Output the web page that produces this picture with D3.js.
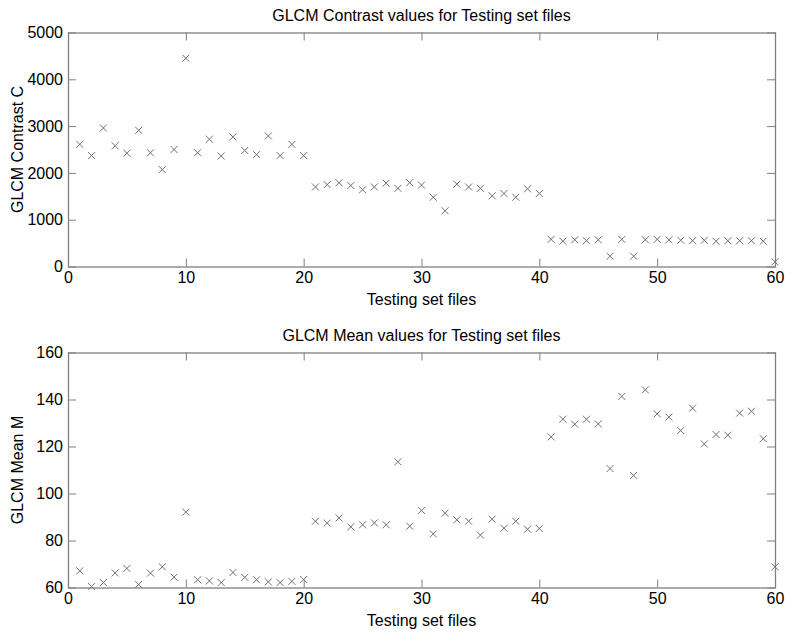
<!DOCTYPE html>
<html>
<head>
<meta charset="utf-8">
<script src="https://cdn.jsdelivr.net/npm/d3@7"></script>
<style>
    body { margin: 0; background: #fff; }
    svg { display: block; font-family: "Liberation Sans", Arial, sans-serif; }
    .tick text { font-size: 16px; fill: #000; font-family: "Liberation Sans", Arial, sans-serif; }
    .tick line { stroke: #808080; }
</style>
</head>
<body>
<svg id="plot" width="785" height="633"></svg>
<script>
'use strict';

const fileIndex = d3.range(1, 61);

const contrastValues = [
    2610, 2370, 2960, 2580, 2420, 2910, 2430, 2070, 2500, 4450,
    2430, 2720, 2360, 2770, 2480, 2390, 2790, 2370, 2610, 2370,
    1700, 1750, 1790, 1730, 1640, 1700, 1780, 1670, 1790, 1740,
    1480, 1190, 1760, 1700, 1670, 1510, 1560, 1480, 1660, 1560,
    580, 540, 570, 550, 570, 220, 580, 220, 570, 580,
    570, 560, 550, 560, 540, 550, 550, 550, 540, 100
];

const meanValues = [
    67.1, 60.4, 62.1, 66.2, 68.1, 61.3, 66.1, 68.8, 64.4, 92.1,
    63.3, 62.8, 62.1, 66.4, 64.3, 63.3, 62.4, 62.1, 62.6, 63.4,
    88.2, 87.4, 89.6, 85.8, 86.7, 87.5, 86.7, 113.5, 86.1, 92.8,
    82.8, 91.6, 88.8, 88.2, 82.3, 89.1, 85.2, 88.2, 84.8, 85.1,
    124.1, 131.6, 129.5, 131.6, 129.6, 110.6, 141.3, 107.7, 144.1, 133.9,
    132.5, 126.8, 136.3, 121.1, 125.1, 124.8, 134.2, 135.0, 123.3, 68.8
];

const xTicks = [0, 10, 20, 30, 40, 50, 60];
const contrastTicks = [0, 1000, 2000, 3000, 4000, 5000];
const meanTicks = [60, 80, 100, 120, 140, 160];

const plotLeft = 68;
const plotRight = 775;
const axisColor = '#808080';
const markerColor = '#6f6f6f';
const tickLength = 8;
const fontSize = 16;

function renderPanel(cfg) {
    const svg = d3.select('#plot');
    const g = svg.append('g');

    const xScale = d3.scaleLinear().domain([0, 60]).range([plotLeft, plotRight]);
    const yScale = d3.scaleLinear().domain(cfg.yDomain).range([cfg.bottom, cfg.top]);

    // bottom axis with labels, ticks pointing in
    g.append('g')
        .attr('transform', `translate(0, ${cfg.bottom})`)
        .call(d3.axisBottom(xScale).tickValues(xTicks).tickSize(-tickLength).tickPadding(5).tickFormat(d3.format('d')))
        .call(a => a.select('.domain').remove());

    g.append('g')
        .attr('transform', `translate(0, ${cfg.top})`)
        .call(d3.axisTop(xScale).tickValues(xTicks).tickSize(-tickLength).tickFormat(''))
        .call(a => a.select('.domain').remove());

    g.append('g')
        .attr('transform', `translate(${plotLeft}, 0)`)
        .call(d3.axisLeft(yScale).tickValues(cfg.yTicks).tickSize(-tickLength).tickPadding(5).tickFormat(d3.format('d')))
        .call(a => a.select('.domain').remove());

    g.append('g')
        .attr('transform', `translate(${plotRight}, 0)`)
        .call(d3.axisRight(yScale).tickValues(cfg.yTicks).tickSize(-tickLength).tickFormat(''))
        .call(a => a.select('.domain').remove());

    g.append('rect')
        .attr('x', plotLeft + 0.5)
        .attr('y', cfg.top + 0.5)
        .attr('width', plotRight - plotLeft)
        .attr('height', cfg.bottom - cfg.top)
        .attr('fill', 'none')
        .attr('stroke', axisColor)
        .attr('stroke-width', 1.3);

    const s = 3.5;
    g.append('g')
        .selectAll('path')
        .data(cfg.values)
        .join('path')
        .attr('d', (v, i) => {
            const cx = xScale(fileIndex[i]);
            const cy = yScale(v);
            return `M${cx - s},${cy - s}L${cx + s},${cy + s}M${cx - s},${cy + s}L${cx + s},${cy - s}`;
        })
        .attr('fill', 'none')
        .attr('stroke', markerColor)
        .attr('stroke-width', 1);

    g.append('text')
        .attr('x', (plotLeft + plotRight) / 2)
        .attr('y', cfg.top - 11.5)
        .attr('text-anchor', 'middle')
        .attr('font-size', fontSize)
        .text(cfg.title);

    g.append('text')
        .attr('x', (plotLeft + plotRight) / 2)
        .attr('y', cfg.bottom + 38.5)
        .attr('text-anchor', 'middle')
        .attr('font-size', fontSize)
        .text('Testing set files');

    g.append('text')
        .attr('transform', `translate(23, ${(cfg.top + cfg.bottom) / 2}) rotate(-90)`)
        .attr('text-anchor', 'middle')
        .attr('font-size', fontSize)
        .text(cfg.yLabel);
}

renderPanel({
    top: 32.5,
    bottom: 266.5,
    yDomain: [0, 5000],
    yTicks: contrastTicks,
    values: contrastValues,
    title: 'GLCM Contrast values for Testing set files',
    yLabel: 'GLCM Contrast C'
});

renderPanel({
    top: 352.5,
    bottom: 587.5,
    yDomain: [60, 160],
    yTicks: meanTicks,
    values: meanValues,
    title: 'GLCM Mean values for Testing set files',
    yLabel: 'GLCM Mean M'
});
</script>
</body>
</html>
